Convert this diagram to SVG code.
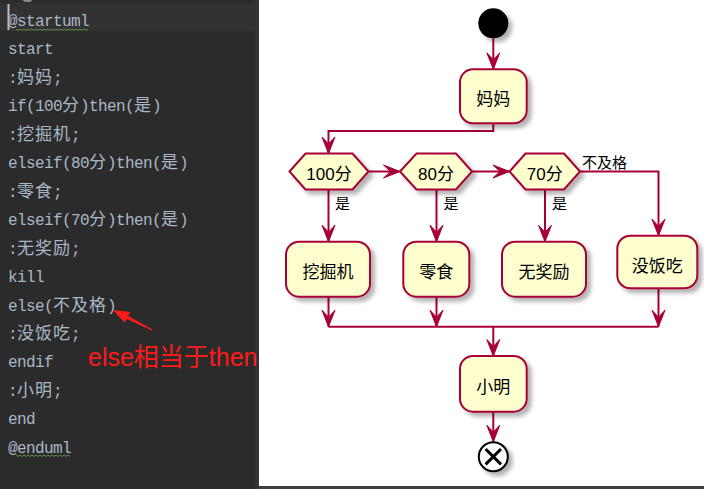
<svg xmlns="http://www.w3.org/2000/svg" width="704" height="489" viewBox="0 0 704 489">
<style>
.code{font-family:"Liberation Mono","Noto Sans CJK SC",monospace;font-size:16px;letter-spacing:-0.6px;fill:#a9b7c6}
.c{font-family:"Noto Sans CJK SC",sans-serif;font-size:17px;letter-spacing:1px}
.ln{fill:none;stroke:#A80036;stroke-width:2}
.ah{fill:#A80036;stroke:#A80036;stroke-width:1}
.box{fill:#FEFECE;stroke:#A80036;stroke-width:2;filter:url(#sh)}
.t{font-family:"Liberation Sans","Noto Sans CJK SC",sans-serif;font-size:17px;fill:#000;text-anchor:middle}
.lb{font-family:"Liberation Sans","Noto Sans CJK SC",sans-serif;font-size:15px;fill:#000}
.wave{fill:none;stroke:#5f8f4e;stroke-width:1}
</style>
<defs>
<filter id="sh" x="-30%" y="-30%" width="170%" height="170%">
<feGaussianBlur in="SourceAlpha" stdDeviation="2"/>
<feOffset dx="4" dy="4"/>
<feComponentTransfer><feFuncA type="linear" slope="0.3"/></feComponentTransfer>
<feMerge><feMergeNode/><feMergeNode in="SourceGraphic"/></feMerge>
</filter>
<path id="ad" d="M0,0 L-6.5,-16.5 L0,-9.5 L6.5,-16.5 Z"/>
</defs>

<!-- editor panel -->
<g id="editor">
<rect x="0" y="0" width="255" height="489" fill="#2b2b2b"/>
<rect x="0" y="3" width="255" height="28" fill="#323232"/>
<ellipse cx="27.5" cy="0" rx="4.5" ry="2" fill="#8a8a8a"/>
<rect x="255" y="0" width="4" height="489" fill="#313335"/>
<rect x="7.5" y="4" width="2" height="26" fill="#bbbbbb"/>
<text class="code" x="8" y="26">@startuml</text>
<text class="code" x="8" y="54.45">start</text>
<text class="code" x="8" y="82.9">:<tspan class="c">妈妈</tspan>;</text>
<text class="code" x="8" y="111.35">if(100<tspan class="c">分</tspan>)then(<tspan class="c">是</tspan>)</text>
<text class="code" x="8" y="139.8">:<tspan class="c">挖掘机</tspan>;</text>
<text class="code" x="8" y="168.25">elseif(80<tspan class="c">分</tspan>)then(<tspan class="c">是</tspan>)</text>
<text class="code" x="8" y="196.7">:<tspan class="c">零食</tspan>;</text>
<text class="code" x="8" y="225.15">elseif(70<tspan class="c">分</tspan>)then(<tspan class="c">是</tspan>)</text>
<text class="code" x="8" y="253.6">:<tspan class="c">无奖励</tspan>;</text>
<text class="code" x="8" y="282.05">kill</text>
<text class="code" x="8" y="310.5">else(<tspan class="c">不及格</tspan>)</text>
<text class="code" x="8" y="338.95">:<tspan class="c">没饭吃</tspan>;</text>
<text class="code" x="8" y="367.4">endif</text>
<text class="code" x="8" y="395.85">:<tspan class="c">小明</tspan>;</text>
<text class="code" x="8" y="424.3">end</text>
<text class="code" x="8" y="452.75">@enduml</text>
<path class="wave" d="M16,29 l2,1.5 l2,-1.5 l2,1.5 l2,-1.5 l2,1.5 l2,-1.5 l2,1.5 l2,-1.5 l2,1.5 l2,-1.5 l2,1.5 l2,-1.5 l2,1.5 l2,-1.5 l2,1.5 l2,-1.5 l2,1.5 l2,-1.5 l2,1.5 l2,-1.5 l2,1.5 l2,-1.5 l2,1.5 l2,-1.5 l2,1.5 l2,-1.5 l2,1.5 l2,-1.5 l2,1.5 l2,-1.5 l2,1.5 l2,-1.5 l2,1.5 l2,-1.5 l2,1.5 l2,-1.5"/>
<path class="wave" d="M16,455 l2,1.5 l2,-1.5 l2,1.5 l2,-1.5 l2,1.5 l2,-1.5 l2,1.5 l2,-1.5 l2,1.5 l2,-1.5 l2,1.5 l2,-1.5 l2,1.5 l2,-1.5 l2,1.5 l2,-1.5 l2,1.5 l2,-1.5 l2,1.5 l2,-1.5 l2,1.5 l2,-1.5 l2,1.5 l2,-1.5 l2,1.5 l2,-1.5 l2,1.5"/>
</g>

<!-- annotation -->
<g id="annotation">
<polygon fill="#ff1a1a" points="152,330.5 126.9,319 124.5,322.6 113,310 129.9,312 128.3,315.9 152.5,329.5"/>
<text x="88" y="366" font-family="'Liberation Sans','Noto Sans CJK SC',sans-serif" font-size="25" fill="#ff1a1a">else相当于then</text>
</g>

<!-- diagram panel -->
<rect x="259" y="0" width="445" height="486" fill="#ffffff"/>
<rect x="259" y="486" width="445" height="3" fill="#3c3f41"/>

<g id="connectors">
<path class="ln" d="M493.3,38.3 V69"/>
<use href="#ad" class="ah" transform="translate(493.3,69.3)"/>
<path class="ln" d="M493.3,123.3 V131 H328.5 V153"/>
<use href="#ad" class="ah" transform="translate(328.5,153.5)"/>
<path class="ln" d="M368.5,171.5 H399.5"/>
<use href="#ad" class="ah" transform="translate(400,171.5) rotate(-90)"/>
<path class="ln" d="M472,171.5 H509"/>
<use href="#ad" class="ah" transform="translate(509.5,171.5) rotate(-90)"/>
<path class="ln" d="M580,171.5 H658.5 V235"/>
<use href="#ad" class="ah" transform="translate(658.5,235.7)"/>
<path class="ln" d="M328.5,189.5 V241"/>
<use href="#ad" class="ah" transform="translate(328.5,241.7)"/>
<path class="ln" d="M436.5,189.5 V241"/>
<use href="#ad" class="ah" transform="translate(436.5,241.7)"/>
<path class="ln" d="M545,189.5 V241"/>
<use href="#ad" class="ah" transform="translate(545,241.7)"/>
<path class="ln" d="M328.5,296.7 V326.7"/>
<use href="#ad" class="ah" transform="translate(328.5,326.7)"/>
<path class="ln" d="M436.5,296.7 V326.7"/>
<use href="#ad" class="ah" transform="translate(436.5,326.7)"/>
<path class="ln" d="M658.5,288.3 V326.7"/>
<use href="#ad" class="ah" transform="translate(658.5,326.7)"/>
<path class="ln" d="M328.5,326.7 H658.5"/>
<path class="ln" d="M493.3,326.7 V355.5"/>
<use href="#ad" class="ah" transform="translate(493.3,356)"/>
<path class="ln" d="M493.3,411.7 V441"/>
<use href="#ad" class="ah" transform="translate(493.3,441.7)"/>
<text class="lb" x="335" y="208.5">是</text>
<text class="lb" x="443.5" y="208.5">是</text>
<text class="lb" x="552" y="208.5">是</text>
<text class="lb" x="582" y="167.5" font-size="16">不及格</text>
</g>

<g id="start"><circle cx="493.3" cy="23.3" r="15" fill="#000" filter="url(#sh)"/></g>
<g id="mama"><rect class="box" x="460" y="69.3" width="66.7" height="54" rx="13"/><text class="t" x="493.3" y="104.5">妈妈</text></g>
<g id="d100"><polygon class="box" points="289.5,171.5 305.5,153.5 352.5,153.5 368.5,171.5 352.5,189.5 305.5,189.5"/><text class="t" x="329" y="180">100分</text></g>
<g id="d80"><polygon class="box" points="400,171.5 416.5,153.5 456,153.5 472,171.5 456,189.5 416.5,189.5"/><text class="t" x="436" y="180">80分</text></g>
<g id="d70"><polygon class="box" points="509.5,171.5 525.5,153.5 564,153.5 580,171.5 564,189.5 525.5,189.5"/><text class="t" x="544.7" y="180">70分</text></g>
<g id="wajueji"><rect class="box" x="286" y="241.7" width="84" height="55" rx="13"/><text class="t" x="328" y="277.5">挖掘机</text></g>
<g id="lingshi"><rect class="box" x="403.3" y="241.7" width="66" height="55" rx="13"/><text class="t" x="436.3" y="277.5">零食</text></g>
<g id="wujiangli"><rect class="box" x="502" y="241.7" width="84" height="55" rx="13"/><text class="t" x="544" y="277.5">无奖励</text></g>
<g id="meifanchi"><rect class="box" x="617.3" y="235.7" width="80" height="52.6" rx="13"/><text class="t" x="657.3" y="271.5">没饭吃</text></g>
<g id="xiaoming"><rect class="box" x="460" y="356" width="66.7" height="55.7" rx="13"/><text class="t" x="493.3" y="392.5">小明</text></g>
<g id="end"><circle cx="493.3" cy="456.7" r="14.5" fill="#fff" stroke="#000" stroke-width="2" filter="url(#sh)"/><path d="M485.6,449 L501,464.4 M501,449 L485.6,464.4" stroke="#000" stroke-width="3"/></g>
</svg>
